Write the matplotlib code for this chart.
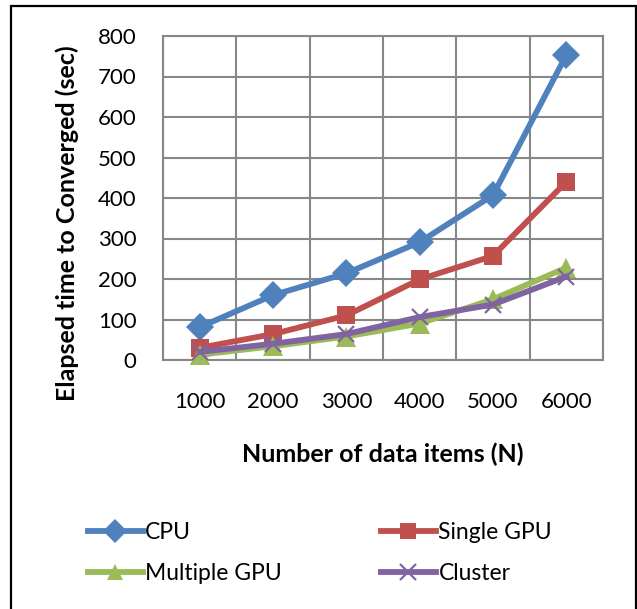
import matplotlib.pyplot as plt
from matplotlib.patches import Rectangle

# convergence time per data size
n_items = ['1000', '2000', '3000', '4000', '5000', '6000']
cpu = [81, 160, 214, 291, 407, 753]
single_gpu = [30, 64, 110, 199, 257, 440]
multi_gpu = [13, 34, 58, 90, 150, 228]
cluster = [20, 40, 64, 106, 137, 206]

plt.rcParams['font.family'] = ['Lato', 'DejaVu Sans']

fig = plt.figure(figsize=(6.37, 6.09), dpi=100)
ax = fig.add_axes([163 / 637, 1 - 360 / 609, 440 / 637, 324 / 609])

x = list(range(len(n_items)))
series = [
    ('CPU', cpu, '#4F81BD', 'D', 14),
    ('Single GPU', single_gpu, '#C0504D', 's', 13),
    ('Multiple GPU', multi_gpu, '#9BBB59', '^', 14),
    ('Cluster', cluster, '#8064A2', 'x', 12),
]
handles = {}
for name, vals, col, mk, ms in series:
    mew = 1.6 if mk == 'x' else 0
    ln, = ax.plot(x, vals, color=col, lw=4.2, marker=mk, ms=ms,
                  markeredgewidth=mew, markeredgecolor=col, markerfacecolor=col,
                  zorder=3, clip_on=False)
    handles[name] = ln

ax.set_xlim(-0.5, 5.5)
ax.set_ylim(0, 800)
ax.set_yticks(range(0, 801, 100))
ax.set_xticks(x)
ax.set_xticklabels(n_items)
ax.set_xticks([i - 0.5 for i in range(7)], minor=True)
ax.grid(True, which='minor', axis='x', color='#878787', lw=1.5)
ax.grid(True, which='major', axis='y', color='#878787', lw=1.5)
ax.tick_params(axis='x', which='both', length=0, labelsize=16, pad=23)
ax.tick_params(axis='y', length=0, labelsize=16, pad=19)
for s in ax.spines.values():
    s.set_color('#878787')
    s.set_linewidth(1.5)

ax.set_xlabel('Number of data items (N)', fontsize=18, fontweight='bold', va='center')
ax.xaxis.set_label_coords(0.5, -0.29)
ax.set_ylabel('Elapsed time to Converged (sec)', fontsize=18, fontweight='bold', va='center')
ax.yaxis.set_label_coords(-0.218, 0.423)

order = ['CPU', 'Multiple GPU', 'Single GPU', 'Cluster']
leg = fig.legend([handles[k] for k in order], order, ncol=2, loc='center left',
                 bbox_to_anchor=(67 / 637, 1 - 553 / 609), frameon=False,
                 fontsize=16.5, handlelength=2.4, handletextpad=0.12,
                 columnspacing=4.3, labelspacing=0.85, borderpad=0.4)
for h in leg.legend_handles:
    h.set_markersize(12)

# outer chart border
fig.patches.append(Rectangle((11 / 637, -0.01), 625 / 637, 1 - 6 / 609 + 0.01,
                             transform=fig.transFigure, fill=False,
                             edgecolor='black', lw=1.6))

fig.savefig('out.png', dpi=100)
